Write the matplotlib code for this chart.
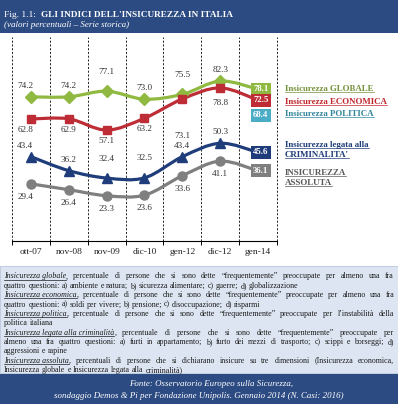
"""
Fig. 1.1 - Gli indici dell'insicurezza in Italia (serie storica).
"""

import numpy as np
import matplotlib
matplotlib.use('Agg')
import matplotlib.pyplot as plt
from matplotlib.path import Path
from matplotlib.patches import PathPatch, Rectangle
from matplotlib.lines import Line2D

plt.rcParams['font.family'] = ['Liberation Serif', 'DejaVu Serif']

# --- data ---------------------------------------------------------------
periods = ["ott-07", "nov-08", "nov-09", "dic-10", "gen-12", "dic-12", "gen-14"]
globale = [74.2, 74.2, 77.1, 73.0, 75.5, 82.3, 78.1]
economica = [62.8, 62.9, 57.1, 63.2, 73.1, 78.8, 72.5]
criminalita = [43.4, 36.2, 32.4, 32.5, 43.4, 50.3, 45.6]
assoluta = [29.4, 26.4, 23.3, 23.6, 33.6, 41.1, 36.1]
politica_last = 68.4

# --- styles -------------------------------------------------------------
GREEN, RED, NAVY, GREY, AQUA = "#8FB940", "#BE2D35", "#1F3D7A", "#7F7F7F", "#4BACC6"
BAND = "#2C4B82"
LIGHT = "#DCE5F1"

series = [
    # values, colour, marker, size, default label offset (pt), overrides {idx: dy}
    (globale, GREEN, "D", 6.3, 8, {2: 14, 4: 14}),
    (economica, RED, "s", 6.0, -8, {4: -27, 5: -11}),
    (criminalita, NAVY, "^", 7.0, 8, {2: 14, 3: 14}),
    (assoluta, GREY, "o", 6.5, -9.5, {}),
]

W, H = 398, 404
fig = plt.figure(figsize=(W / 100, H / 100), dpi=100)
fig.patch.set_facecolor("white")


def fy(px):
    return 1 - px / H


def fx(px):
    return px / W


# background bands
fig.add_artist(Rectangle((0, fy(33)), 1, 33 / H, transform=fig.transFigure,
                         fc=BAND, ec="none", zorder=0))
fig.add_artist(Rectangle((0, fy(373)), 1, (373 - 266) / H, transform=fig.transFigure,
                         fc=LIGHT, ec="#B8C7DD", lw=0.6, zorder=0))
fig.add_artist(Rectangle((0, 0), 1, fy(374), transform=fig.transFigure,
                         fc=BAND, ec="none", zorder=0))

renderer = fig.canvas.get_renderer()


def underline(t, color, lw=0.6):
    bb = t.get_window_extent(renderer)
    x0, y0 = t.get_position()
    y = y0 - 1.3 / H
    fig.add_artist(Line2D([bb.x0 / W, bb.x1 / W], [y, y], transform=fig.transFigure,
                          color=color, lw=lw))


# header
t1 = fig.text(fx(4), fy(17), "Fig. 1.1:  ", color="white", fontsize=6.8, va="baseline")
bb = t1.get_window_extent(renderer)
fig.text(bb.x1 / W, fy(17), "GLI INDICI DELL'INSICUREZZA IN ITALIA", color="white",
         fontsize=6.7, fontweight="bold", va="baseline")
fig.text(fx(4), fy(27), "(valori percentuali – Serie storica)", color="white",
         fontsize=6.5, style="italic", va="baseline")

# --- chart ---------------------------------------------------------------
ax = fig.add_axes([fx(12), fy(241), fx(277 - 12), (241 - 37) / H])
ax.set_xlim(-0.5, len(periods) - 0.5)
ax.set_ylim(0, 105)
for s in ["top", "left", "right"]:
    ax.spines[s].set_visible(False)
ax.spines["bottom"].set_linewidth(0.8)
ax.set_yticks([])
x = np.arange(len(periods))
ax.set_xticks(np.arange(-0.5, len(periods), 1.0))
ax.set_xticklabels([])
ax.set_xticks(x, minor=True)
ax.set_xticklabels(periods, minor=True)
ax.tick_params(axis="x", which="major", length=3, width=0.7, direction="out")
ax.tick_params(axis="x", which="minor", length=0, pad=5, labelsize=6.8, labelcolor="#222222")
ax.patch.set_alpha(0)

for b in np.arange(-0.5, len(periods), 1.0):
    ax.axvline(b, color="black", lw=0.6, ls=(0, (2.5, 2)), clip_on=False, zorder=1)


def smooth_path(xs, ys):
    verts = [(xs[0], ys[0])]
    codes = [Path.MOVETO]
    n = len(xs)
    for i in range(n - 1):
        i0, i3 = max(i - 1, 0), min(i + 2, n - 1)
        x0, y0 = xs[i0], ys[i0]
        x1, y1 = xs[i], ys[i]
        x2, y2 = xs[i + 1], ys[i + 1]
        x3, y3 = xs[i3], ys[i3]
        verts += [(x1 + (x2 - x0) / 6, y1 + (y2 - y0) / 6),
                  (x2 - (x3 - x1) / 6, y2 - (y3 - y1) / 6),
                  (x2, y2)]
        codes += [Path.CURVE4] * 3
    return Path(verts, codes)


for vals, col, mk, ms, dy, over in series:
    ax.add_patch(PathPatch(smooth_path(x, vals), fc="none", ec=col, lw=2.3,
                           capstyle="round", zorder=3))
    ax.plot(x[:-1], vals[:-1], ls="none", marker=mk, ms=ms, color=col, zorder=4)
    for i, v in enumerate(vals[:-1]):
        ax.annotate(f"{v:.1f}", (i, v), xytext=(-4 if i == 0 else 0, over.get(i, dy)),
                    textcoords="offset points", ha="center", va="center",
                    fontsize=6.6, color="#333333", zorder=5)
    ax.annotate(f"{vals[-1]:.1f}", (x[-1], vals[-1]), xytext=(2, 0),
                textcoords="offset points", ha="center", va="center", fontsize=6.3,
                fontweight="bold", color="white", zorder=6,
                bbox=dict(boxstyle="square,pad=0.28", fc=col, ec="none"))

ax.annotate(f"{politica_last:.1f}", (x[-1], politica_last), xytext=(2, -5),
            textcoords="offset points", ha="center", va="center", fontsize=6.3,
            fontweight="bold", color="white", zorder=6,
            bbox=dict(boxstyle="square,pad=0.28", fc=AQUA, ec="none"))

# legend texts on the right
legend_lines = [
    ("Insicurezza GLOBALE", "#76933C", 91),
    ("Insicurezza ECONOMICA", "#C0282E", 104),
    ("Insicurezza POLITICA", "#31859C", 116),
    ("Insicurezza legata alla", NAVY, 147),
    ("CRIMINALITA'", NAVY, 157),
    ("INSICUREZZA", "#595959", 175),
    ("ASSOLUTA", "#595959", 185),
]
for txt, col, ypx in legend_lines:
    t = fig.text(fx(285), fy(ypx), txt, color=col, fontsize=6.4, fontweight="bold",
                 va="baseline")
    underline(t, col, lw=0.5)

# --- notes ---------------------------------------------------------------
notes = [
    ("_Insicurezza globale_, percentuale di persone che si sono dette “frequentemente” preoccupate per almeno una fra", True),
    ("quattro questioni: a) ambiente e natura; b) sicurezza alimentare; c) guerre; d) globalizzazione", False),
    ("_Insicurezza economica_, percentuale di persone che si sono dette “frequentemente” preoccupate per almeno una fra", True),
    ("quattro questioni:  a) soldi per vivere; b) pensione; c) disoccupazione; d) risparmi", False),
    ("_Insicurezza politica_, percentuale di persone che si sono dette “frequentemente” preoccupate per l’instabilità della", True),
    ("politica italiana", False),
    ("_Insicurezza legata alla criminalità_, percentuale di persone che si sono dette “frequentemente” preoccupate per", True),
    ("almeno una fra quattro questioni:  a) furti in appartamento; b) furto dei mezzi di trasporto; c) scippi e borseggi; d)", True),
    ("aggressioni e rapine", False),
    ("_Insicurezza assoluta_, percentuali di persone che si dichiarano insicure su tre dimensioni (Insicurezza economica,", True),
    ("Insicurezza globale e Insicurezza legata alla criminalità)", False),
]

FS = 5.7
LEFT, RIGHT = 4, 394
probe2 = fig.text(0, 0, "a a", fontsize=FS)
probe1 = fig.text(0, 0, "a", fontsize=FS)
space = probe2.get_window_extent(renderer).width - 2 * probe1.get_window_extent(renderer).width
probe2.remove()
probe1.remove()

for k, (line, justify) in enumerate(notes):
    ypx = 278.5 + 9.35 * k
    tokens = []  # (text, italic, glued)
    if line.startswith("_"):
        end = line.index("_", 1)
        tokens.append((line[1:end], True, False))
        rest = line[end + 1:]
        if rest.startswith(","):
            tokens.append((",", False, True))
            rest = rest[1:]
        line = rest
    tokens += [(w, False, False) for w in line.split()]

    arts = []
    for txt, ital, glued in tokens:
        t = fig.text(0, fy(ypx), txt, fontsize=FS, style="italic" if ital else "normal",
                     color="#1A1A1A", va="baseline")
        arts.append((t, t.get_window_extent(renderer).width, ital, glued))
    n_gaps = sum(1 for a in arts[1:] if not a[3])
    total = sum(a[1] for a in arts)
    gap = (RIGHT - LEFT - total) / n_gaps if (justify and n_gaps) else space
    xpos = LEFT
    for j, (t, w, ital, glued) in enumerate(arts):
        if j > 0 and not glued:
            xpos += gap
        t.set_x(xpos / W)
        if ital:
            fig.add_artist(Line2D([xpos / W, (xpos + w) / W], [fy(ypx + 1.2)] * 2,
                                  transform=fig.transFigure, color="#1A1A1A", lw=0.5))
        xpos += w

# footer
fig.text(0.53, fy(386), "Fonte: Osservatorio Europeo sulla Sicurezza,", color="white",
         fontsize=6.4, style="italic", ha="center", va="baseline")
fig.text(0.50, fy(398), "sondaggio Demos & Pi per Fondazione Unipolis. Gennaio 2014 (N. Casi: 2016)",
         color="white", fontsize=6.4, style="italic", ha="center", va="baseline")

fig.savefig("out.png", dpi=100)
